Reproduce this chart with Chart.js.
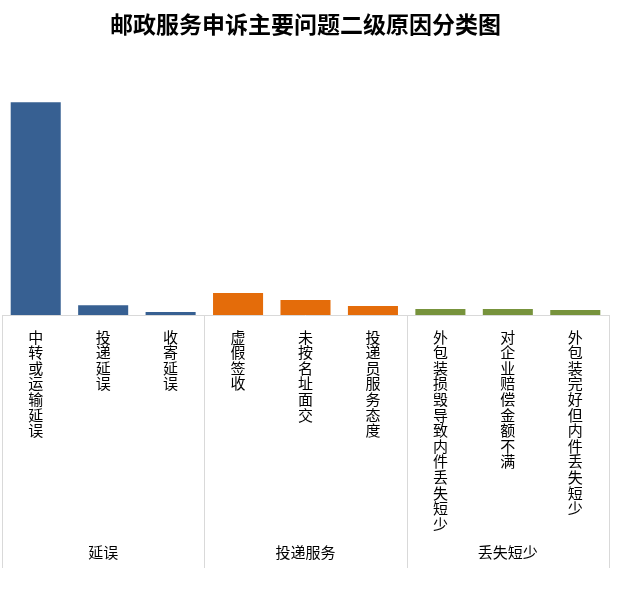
<!DOCTYPE html>
<html>
<head>
<meta charset="utf-8">
<script src="https://cdn.jsdelivr.net/npm/chart.js@4"></script>
<style>
  body { margin: 0; background: #fff; }
  #wrap { width: 620px; height: 598px; }
</style>
</head>
<body>
<div id="wrap"><canvas id="myChart" width="620" height="598"></canvas></div>
<script>
const categories = ['中转或运输延误', '投递延误', '收寄延误', '虚假签收', '未按名址面交', '投递员服务态度',
  '外包装损毁导致内件丢失短少', '对企业赔偿金额不满', '外包装完好但内件丢失短少'];
const groups = ['延误', '投递服务', '丢失短少'];
const groupSizes = [3, 3, 3];
const shares = [73.9, 3.4, 1.0, 7.6, 5.2, 3.1, 2.1, 2.1, 1.7];
const groupColors = ['#376092', '#E46C0A', '#77933C'];

const barColors = [];
groupSizes.forEach((n, g) => { for (let i = 0; i < n; i++) barColors.push(groupColors[g]); });

const cjk = '"Noto Sans CJK SC", sans-serif';

// lines between the groups, and the base line
const separators = {
  id: 'separators',
  afterDraw(chart) {
    const x = chart.scales.x;
    const area = chart.chartArea;
    const step = x.getPixelForValue(1) - x.getPixelForValue(0);
    const c = chart.ctx;
    c.save();
    c.strokeStyle = '#d9d9d9';
    c.lineWidth = 1;
    c.beginPath();
    c.moveTo(area.left, area.bottom + 0.5);
    c.lineTo(area.right, area.bottom + 0.5);
    let idx = 0;
    [0].concat(groupSizes).forEach(n => {
      idx += n;
      const px = Math.round(x.getPixelForValue(idx) - step / 2) + 0.5;
      c.moveTo(px, area.bottom);
      c.lineTo(px, 568);
    });
    c.stroke();
    c.restore();
  }
};

const data = {
  labels: categories.map(s => s.split('')),
  datasets: [{
    data: shares,
    backgroundColor: barColors,
    barPercentage: 0.742,
    categoryPercentage: 1
  }]
};

const config = {
  type: 'bar',
  data: data,
  options: {
    responsive: false,
    animation: false,
    layout: { padding: { left: 2, right: 11, top: 0, bottom: 35 } },
    plugins: {
      legend: { display: false },
      tooltip: { enabled: false },
      title: {
        display: true,
        text: '邮政服务申诉主要问题二级原因分类图',
        color: '#000',
        font: { family: cjk, size: 23, weight: 'bold', lineHeight: 1.2 },
        padding: { top: 10, bottom: 47 }
      }
    },
    scales: {
      y: { display: false, min: 0, max: 80 },
      x: {
        grid: { display: false, drawTicks: false },
        border: { display: false },
        afterFit: s => { s.height = 226; },
        ticks: {
          autoSkip: false, maxRotation: 0, minRotation: 0,
          color: '#000', padding: 14,
          font: { family: cjk, size: 15, lineHeight: 1.04 }
        }
      },
      x2: {
        type: 'category',
        position: 'bottom',
        labels: groups,
        offset: true,
        grid: { display: false, drawTicks: false },
        border: { display: false },
        ticks: {
          color: '#000', padding: 2,
          font: { family: cjk, size: 15, lineHeight: 1.2 }
        }
      }
    }
  },
  plugins: [separators]
};

let ctx = document.getElementById('myChart').getContext('2d');
let chart = new Chart(ctx, config);
</script>
</body>
</html>
